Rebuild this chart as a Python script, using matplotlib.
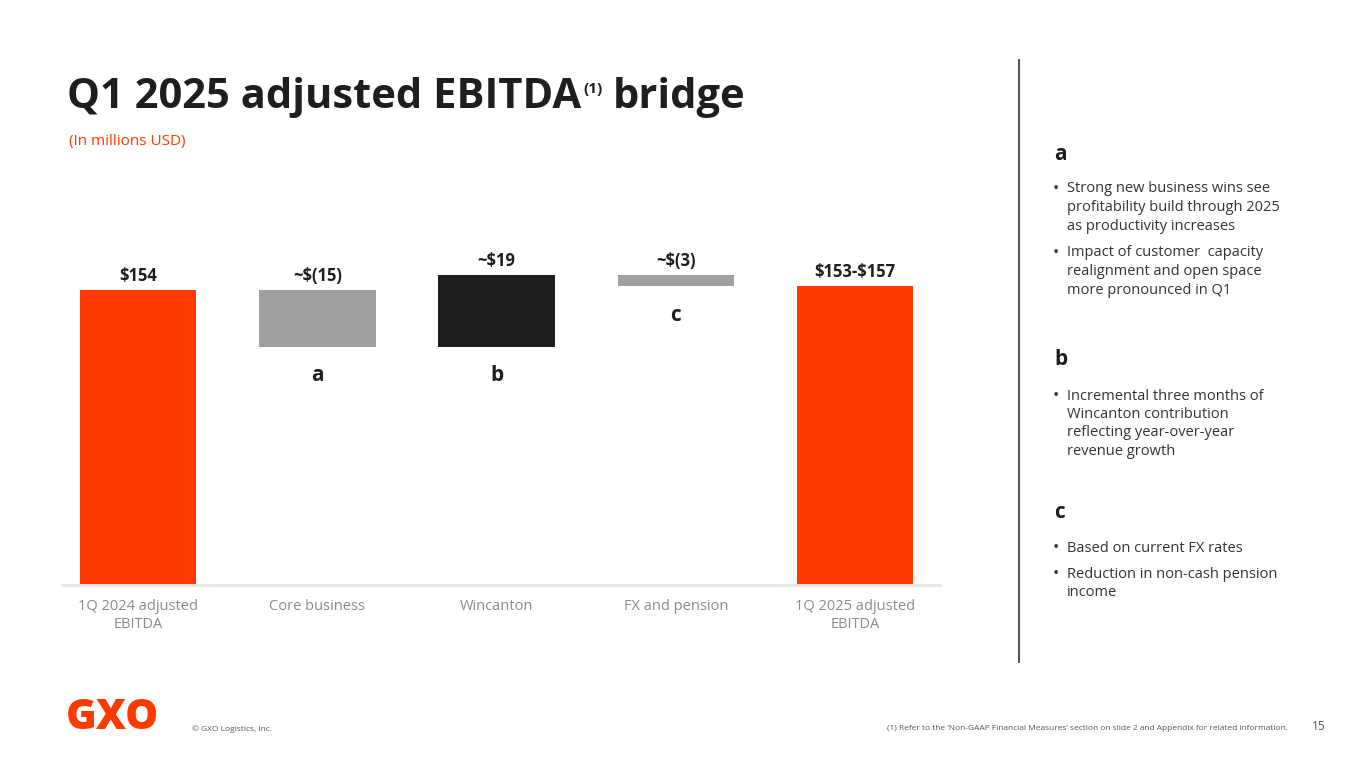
import matplotlib.pyplot as plt
import numpy as np

# data
categories = ['1Q 2024 adjusted\nEBITDA', 'Core business', 'Wincanton',
              'FX and pension', '1Q 2025 adjusted\nEBITDA']
start_value = 154
deltas = [-15, 19, -3]
end_value = 155          # midpoint of the $153-$157 outlook
value_labels = [r'\$154', r'~\$(15)', r'~\$19', r'~\$(3)', r'\$153-\$157']
letters = ['', 'a', 'b', 'c', '']

orange = '#FF3A00'
grey = '#A0A0A0'
black = '#1E1E1E'
bar_colors = [orange, grey, black, grey, orange]

font = 'Open Sans'
plt.rcParams['font.family'] = [font, 'DejaVu Sans']

# setup figure
fig = plt.figure(figsize=(13.65, 7.68), dpi=100)
W, H = 1365, 768


def fx(px):
    return px / W


def fy(py):
    return 1 - py / H


# axis is truncated: baseline sits at ~76
ymin, ymax = 76.4, 164.6
ax = fig.add_axes([fx(62), fy(585), fx(940) - fx(62), fy(250) - fy(585)])
ax.set_xlim(-0.424, 4.474)
ax.set_ylim(ymin, ymax)

# waterfall geometry
bottoms, heights = [], []
bottoms.append(ymin)
heights.append(start_value - ymin)
level = start_value
for d in deltas:
    bottoms.append(min(level, level + d))
    heights.append(abs(d))
    level += d
bottoms.append(ymin)
heights.append(end_value - ymin)

x = np.arange(len(categories))
ax.bar(x, heights, bottom=bottoms, width=0.65, color=bar_colors, zorder=2)

for i in range(len(x)):
    top = bottoms[i] + heights[i]
    ax.annotate(value_labels[i], xy=(x[i], top), xytext=(0, 4),
                textcoords='offset points', ha='center', va='bottom',
                fontsize=12, fontweight='bold', color='#1E1E1E')
    if letters[i]:
        ax.annotate(letters[i], xy=(x[i], bottoms[i]), xytext=(0, -13),
                    textcoords='offset points', ha='center', va='top',
                    fontsize=15, fontweight='bold', color='#1E1E1E')

ax.set_xticks(x)
ax.set_xticklabels(categories, fontsize=10.5, color='#8A8A8A', linespacing=1.25)
ax.tick_params(axis='x', length=0, pad=10)
ax.set_yticks([])
for s in ['top', 'right', 'left']:
    ax.spines[s].set_visible(False)
ax.spines['bottom'].set_color('#E6E6E6')
ax.spines['bottom'].set_linewidth(2)

# title block
t1 = fig.text(fx(67), fy(98), 'Q1 2025 adjusted EBITDA', fontsize=30,
              fontweight='bold', color='#1E1E1E', va='center', ha='left')
t2 = fig.text(0, 0, '(1)', fontsize=11, fontweight='bold', color='#1E1E1E')
t3 = fig.text(0, 0, 'bridge', fontsize=30, fontweight='bold', color='#1E1E1E')
fig.canvas.draw()
r = fig.canvas.get_renderer()
bb1 = t1.get_window_extent(r).transformed(fig.transFigure.inverted())
t2.set_position((bb1.x1 + fx(2), fy(93)))
bb2 = t2.get_window_extent(r).transformed(fig.transFigure.inverted())
t3.set_position((bb2.x1 + fx(10), bb1.y0))
t3.set_va('bottom')
fig.text(fx(69), fy(142), '(In millions USD)', fontsize=11, color=orange,
         va='center', ha='left')

# divider
fig.add_artist(plt.Line2D([fx(1019), fx(1019)], [fy(60), fy(662)],
                          color='#555555', lw=1.5))

# commentary panel
notes = {
    'a': (155, [(189, ['Strong new business wins see',
                       'profitability build through 2025',
                       'as productivity increases']),
                (253, ['Impact of customer  capacity',
                       'realignment and open space',
                       'more pronounced in Q1'])]),
    'b': (359, [(396, ['Incremental three months of',
                       'Wincanton contribution',
                       'reflecting year-over-year',
                       'revenue growth'])]),
    'c': (513, [(548, ['Based on current FX rates']),
                (574, ['Reduction in non-cash pension',
                       'income'])]),
}
for key, (yh, bullets) in notes.items():
    fig.text(fx(1054), fy(yh), key, fontsize=15, fontweight='bold',
             color='#1E1E1E', va='center', ha='left')
    for yb, lines in bullets:
        fig.text(fx(1053), fy(yb), '\u2022', fontsize=12, color='#333333',
                 va='center', ha='left')
        for k, line in enumerate(lines):
            fig.text(fx(1067), fy(yb + 18.5 * k), line, fontsize=10.5,
                     color='#333333', va='center', ha='left')

# footer
fig.text(fx(66), fy(718), 'GXO', fontsize=30, fontweight='heavy',
         color=orange, va='center', ha='left')
fig.text(fx(192), fy(729), '\u00a9 GXO Logistics, Inc.', fontsize=6,
         color='#555555', va='center', ha='left')
fig.text(fx(1288), fy(729),
         "(1) Refer to the \u2018Non-GAAP Financial Measures\u2019 section on "
         "slide 2 and Appendix for related information.",
         fontsize=6, color='#555555', va='center', ha='right')
fig.text(fx(1326), fy(727), '15', fontsize=8.5, color='#555555',
         va='center', ha='right')

fig.savefig('out.png', dpi=100)
